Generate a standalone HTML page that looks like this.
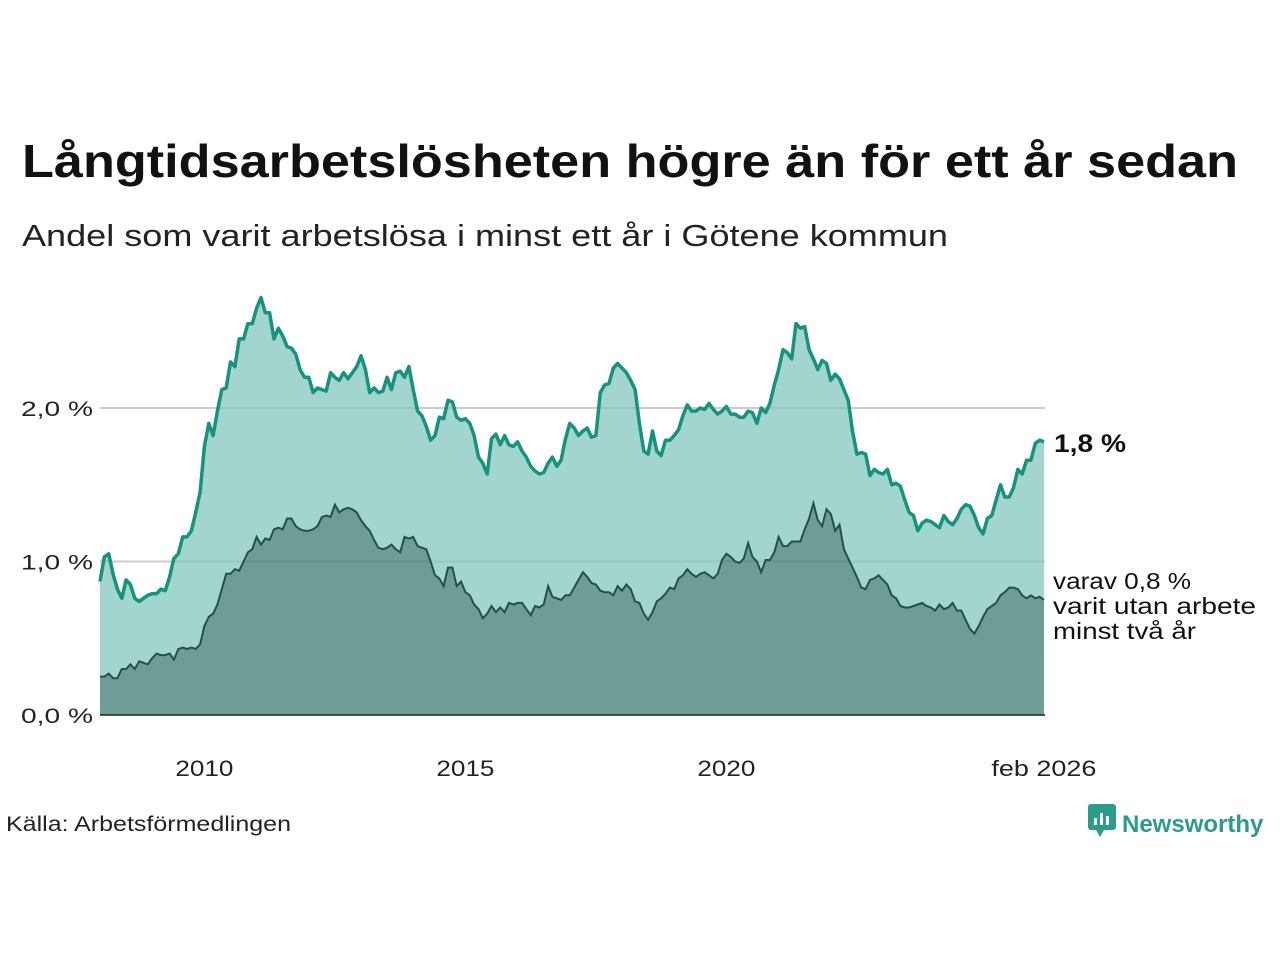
<!DOCTYPE html>
<html><head><meta charset="utf-8">
<style>
body{margin:0;background:#fff;font-family:"Liberation Sans",sans-serif;}
#wrap{position:relative;width:1280px;height:960px;overflow:hidden;}
.logo{position:absolute;left:1088px;top:804px;font-size:24px;font-weight:bold;color:#2b9c8a;}
</style></head><body>
<div id="wrap">
<svg id="chart" width="1280" height="960" style="position:absolute;left:0;top:0">
<text x="22" y="177" font-size="46" font-weight="bold" fill="#111" textLength="1216" lengthAdjust="spacingAndGlyphs">Långtidsarbetslösheten högre än för ett år sedan</text>
<text x="22" y="246" font-size="31" fill="#222" textLength="926" lengthAdjust="spacingAndGlyphs">Andel som varit arbetslösa i minst ett år i Götene kommun</text>
<text x="6" y="831" font-size="21" fill="#222" textLength="285" lengthAdjust="spacingAndGlyphs">Källa: Arbetsförmedlingen</text>
</svg>
<div class="logo"><svg width="28" height="34" style="vertical-align:-6px;margin-right:6px"><rect x="0" y="0" width="28" height="26" rx="3" fill="#2b9c8a"/><polygon points="8,26 16,26 12,33" fill="#2b9c8a"/><rect x="6" y="14" width="3" height="7" fill="#fff"/><rect x="12" y="9" width="3" height="12" fill="#fff"/><rect x="18" y="12" width="3" height="9" fill="#fff"/></svg>Newsworthy</div>
</div>
<script>
const startYear = 2008;
const total = [0.87,1.03,1.05,0.92,0.82,0.76,0.88,0.85,0.76,0.74,0.76,0.78,
0.79,0.79,0.82,0.81,0.90,1.02,1.05,1.16,1.16,1.20,1.32,1.45,
1.75,1.90,1.82,1.98,2.12,2.13,2.30,2.27,2.45,2.45,2.55,2.55,
2.65,2.72,2.62,2.62,2.45,2.52,2.47,2.40,2.39,2.35,2.25,2.20,
2.20,2.10,2.13,2.12,2.11,2.23,2.20,2.18,2.23,2.19,2.23,2.27,
2.34,2.25,2.10,2.13,2.10,2.11,2.20,2.12,2.23,2.24,2.20,2.27,
2.12,1.98,1.95,1.88,1.79,1.82,1.94,1.93,2.05,2.04,1.94,1.92,
1.93,1.90,1.82,1.68,1.64,1.57,1.80,1.83,1.76,1.82,1.76,1.75,
1.78,1.72,1.68,1.62,1.59,1.57,1.58,1.64,1.68,1.62,1.66,1.80,
1.90,1.87,1.82,1.85,1.87,1.81,1.82,2.10,2.15,2.16,2.26,2.29,
2.26,2.23,2.18,2.12,1.90,1.72,1.70,1.85,1.72,1.69,1.79,1.79,
1.82,1.86,1.95,2.02,1.98,1.98,2.00,1.99,2.03,1.99,1.96,1.98,
2.01,1.96,1.96,1.94,1.94,1.98,1.97,1.90,2.00,1.97,2.03,2.15,
2.25,2.38,2.36,2.32,2.55,2.52,2.53,2.38,2.32,2.25,2.31,2.29,
2.18,2.22,2.19,2.12,2.05,1.85,1.70,1.71,1.70,1.56,1.60,1.58,
1.57,1.60,1.50,1.51,1.49,1.40,1.32,1.30,1.20,1.25,1.27,1.26,
1.24,1.22,1.30,1.26,1.24,1.28,1.34,1.37,1.36,1.30,1.22,1.18,
1.28,1.30,1.40,1.50,1.42,1.42,1.48,1.60,1.57,1.66,1.66,1.77,
1.79,1.78];
const twoYears = [0.25,0.25,0.27,0.24,0.24,0.30,0.30,0.33,0.30,0.35,0.34,0.33,
0.37,0.40,0.39,0.39,0.40,0.36,0.43,0.44,0.43,0.44,0.43,0.46,
0.58,0.64,0.66,0.72,0.82,0.92,0.92,0.95,0.94,1.00,1.06,1.08,
1.16,1.11,1.15,1.14,1.21,1.22,1.21,1.28,1.28,1.23,1.21,1.20,
1.20,1.21,1.23,1.29,1.30,1.29,1.37,1.32,1.34,1.35,1.34,1.32,
1.27,1.23,1.20,1.14,1.09,1.08,1.09,1.11,1.08,1.06,1.16,1.15,
1.16,1.10,1.09,1.08,1.00,0.91,0.89,0.84,0.96,0.96,0.84,0.87,
0.80,0.78,0.72,0.69,0.63,0.66,0.71,0.67,0.70,0.67,0.73,0.72,
0.73,0.73,0.69,0.65,0.71,0.70,0.72,0.84,0.77,0.76,0.75,0.78,
0.78,0.83,0.88,0.93,0.90,0.86,0.85,0.81,0.80,0.80,0.78,0.84,
0.81,0.85,0.82,0.74,0.73,0.66,0.62,0.67,0.74,0.76,0.79,0.83,
0.82,0.89,0.91,0.95,0.92,0.90,0.92,0.93,0.91,0.89,0.92,1.01,
1.05,1.03,1.00,0.99,1.02,1.12,1.03,1.00,0.93,1.01,1.01,1.06,
1.16,1.10,1.10,1.13,1.13,1.13,1.21,1.28,1.38,1.27,1.23,1.34,
1.31,1.20,1.24,1.08,1.02,0.96,0.90,0.83,0.82,0.88,0.89,0.91,
0.88,0.85,0.78,0.76,0.71,0.70,0.70,0.71,0.72,0.73,0.71,0.70,
0.68,0.72,0.69,0.70,0.73,0.68,0.68,0.62,0.56,0.53,0.58,0.64,
0.69,0.71,0.73,0.78,0.80,0.83,0.83,0.82,0.78,0.76,0.78,0.76,
0.77,0.75];
const yTicks = [0,1,2];
const yTickLabels = ["0,0 %","1,0 %","2,0 %"];
const xTicks = [2010,2015,2020];
const lastLabel = "feb 2026";

const NS="http://www.w3.org/2000/svg";
const svg=document.getElementById('chart');
const X0=100, PXY=52.2;
const xs=i=>X0+(i/12)*PXY;
const xYear=y=>X0+(y-startYear)*PXY;
const ys=v=>715-v*153.5;
function el(t,a){const e=document.createElementNS(NS,t);for(const k in a)e.setAttribute(k,a[k]);svg.appendChild(e);return e;}
yTicks.forEach((t,i)=>{
  if(t>0){const g=el('line',{x1:100,x2:1045,y1:ys(t),y2:ys(t),stroke:'#dcdcdc','stroke-width':2});
  
  }
  const l=el('text',{x:93,y:ys(t)+8,'text-anchor':'end','font-size':21,fill:'#222','font-family':'Liberation Sans',textLength:72,lengthAdjust:'spacingAndGlyphs'});
  l.textContent=yTickLabels[i];
  
  
});
function area(arr){let d='M'+xs(0)+','+ys(0);arr.forEach((v,i)=>d+=' L'+xs(i).toFixed(1)+','+ys(v).toFixed(1));d+=' L'+xs(arr.length-1)+','+ys(0)+'Z';return d;}
function line(arr){return arr.map((v,i)=>(i?'L':'M')+xs(i).toFixed(1)+','+ys(v).toFixed(1)).join(' ');}
const a1=el('path',{d:area(total),fill:'#a3d5cf'});


const a2=el('path',{d:area(twoYears),fill:'#6f9c96'});


yTicks.forEach(t=>{if(t>0){const g=el('line',{x1:100,x2:1045,y1:ys(t),y2:ys(t),stroke:'rgba(0,0,0,0.07)','stroke-width':2});

}});
const l2=el('path',{d:line(twoYears),fill:'none',stroke:'#24504a','stroke-width':2});


const l1=el('path',{d:line(total),fill:'none',stroke:'#17927f','stroke-width':3.5,'stroke-linejoin':'round'});


const ax=el('line',{x1:100,x2:1045,y1:715,y2:715,stroke:'#222','stroke-width':1.5});


xTicks.forEach(y=>{const t=el('text',{x:xYear(y),y:776,'text-anchor':'middle','font-size':22,fill:'#222','font-family':'Liberation Sans',textLength:58,lengthAdjust:'spacingAndGlyphs'});t.textContent=y;

});
const lt=el('text',{x:xs(total.length-1),y:776,'text-anchor':'middle','font-size':22,fill:'#222','font-family':'Liberation Sans',textLength:105,lengthAdjust:'spacingAndGlyphs'});lt.textContent=lastLabel;


const v1=el('text',{x:1054,y:ys(total[total.length-1])+10,'font-size':25,'font-weight':'bold',fill:'#111','font-family':'Liberation Sans',textLength:72,lengthAdjust:'spacingAndGlyphs'});
v1.textContent=total[total.length-1].toFixed(1).replace('.',',')+' %';


const lab=['varav '+twoYears[twoYears.length-1].toFixed(1).replace('.',',')+' %','varit utan arbete','minst två år'];
const labW=[138,203,143];
lab.forEach((s,i)=>{const t=el('text',{x:1053,y:589+i*25,'font-size':23,fill:'#111','font-family':'Liberation Sans',textLength:labW[i],lengthAdjust:'spacingAndGlyphs'});t.textContent=s;

});
</script>
</body></html>
